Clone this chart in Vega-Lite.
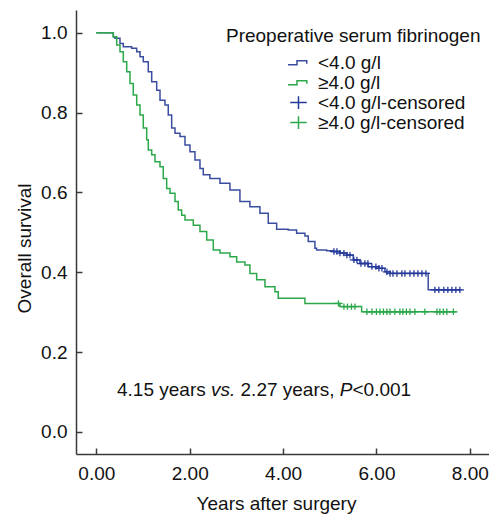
{
  "$schema": "https://vega.github.io/schema/vega-lite/v6.json",
  "width": 413,
  "height": 444,
  "autosize": "none",
  "padding": {"left": 76, "top": 10, "right": 0, "bottom": 61},
  "config": {
    "view": {"stroke": null},
    "font": "Liberation Sans",
    "axis": {
      "grid": false,
      "labelFont": "Liberation Sans",
      "titleFont": "Liberation Sans",
      "labelFontSize": 19,
      "titleFontSize": 19,
      "titleFontWeight": "normal",
      "labelColor": "#111111",
      "titleColor": "#111111",
      "domainColor": "#3a3a3a",
      "domainWidth": 1.5,
      "tickColor": "#3a3a3a",
      "tickWidth": 1.5,
      "labelFlush": false
    }
  },
  "datasets": {
    "curves": [
      {"series": "<4.0 g/l", "t": 0, "s": 1.0},
      {"series": "<4.0 g/l", "t": 0.364, "s": 0.990},
      {"series": "<4.0 g/l", "t": 0.40, "s": 0.986},
      {"series": "<4.0 g/l", "t": 0.507, "s": 0.973},
      {"series": "<4.0 g/l", "t": 0.578, "s": 0.965},
      {"series": "<4.0 g/l", "t": 0.758, "s": 0.961},
      {"series": "<4.0 g/l", "t": 0.865, "s": 0.952},
      {"series": "<4.0 g/l", "t": 0.936, "s": 0.940},
      {"series": "<4.0 g/l", "t": 1.006, "s": 0.927},
      {"series": "<4.0 g/l", "t": 1.113, "s": 0.902},
      {"series": "<4.0 g/l", "t": 1.186, "s": 0.877},
      {"series": "<4.0 g/l", "t": 1.293, "s": 0.856},
      {"series": "<4.0 g/l", "t": 1.364, "s": 0.831},
      {"series": "<4.0 g/l", "t": 1.471, "s": 0.819},
      {"series": "<4.0 g/l", "t": 1.541, "s": 0.794},
      {"series": "<4.0 g/l", "t": 1.614, "s": 0.761},
      {"series": "<4.0 g/l", "t": 1.685, "s": 0.748},
      {"series": "<4.0 g/l", "t": 1.792, "s": 0.740},
      {"series": "<4.0 g/l", "t": 1.899, "s": 0.719},
      {"series": "<4.0 g/l", "t": 2.006, "s": 0.702},
      {"series": "<4.0 g/l", "t": 2.113, "s": 0.681},
      {"series": "<4.0 g/l", "t": 2.220, "s": 0.660},
      {"series": "<4.0 g/l", "t": 2.291, "s": 0.644},
      {"series": "<4.0 g/l", "t": 2.433, "s": 0.635},
      {"series": "<4.0 g/l", "t": 2.648, "s": 0.623},
      {"series": "<4.0 g/l", "t": 2.862, "s": 0.606},
      {"series": "<4.0 g/l", "t": 3.076, "s": 0.577},
      {"series": "<4.0 g/l", "t": 3.290, "s": 0.564},
      {"series": "<4.0 g/l", "t": 3.504, "s": 0.548},
      {"series": "<4.0 g/l", "t": 3.682, "s": 0.523},
      {"series": "<4.0 g/l", "t": 3.862, "s": 0.508},
      {"series": "<4.0 g/l", "t": 4.110, "s": 0.506},
      {"series": "<4.0 g/l", "t": 4.290, "s": 0.498},
      {"series": "<4.0 g/l", "t": 4.468, "s": 0.491},
      {"series": "<4.0 g/l", "t": 4.539, "s": 0.477},
      {"series": "<4.0 g/l", "t": 4.682, "s": 0.460},
      {"series": "<4.0 g/l", "t": 4.718, "s": 0.456},
      {"series": "<4.0 g/l", "t": 4.933, "s": 0.454},
      {"series": "<4.0 g/l", "t": 5.074, "s": 0.452},
      {"series": "<4.0 g/l", "t": 5.217, "s": 0.448},
      {"series": "<4.0 g/l", "t": 5.361, "s": 0.443},
      {"series": "<4.0 g/l", "t": 5.502, "s": 0.431},
      {"series": "<4.0 g/l", "t": 5.645, "s": 0.422},
      {"series": "<4.0 g/l", "t": 5.823, "s": 0.414},
      {"series": "<4.0 g/l", "t": 6.003, "s": 0.410},
      {"series": "<4.0 g/l", "t": 6.181, "s": 0.401},
      {"series": "<4.0 g/l", "t": 6.288, "s": 0.397},
      {"series": "<4.0 g/l", "t": 7.108, "s": 0.356},
      {"series": "<4.0 g/l", "t": 7.823, "s": 0.356},
      {"series": "≥4.0 g/l", "t": 0, "s": 1.0},
      {"series": "≥4.0 g/l", "t": 0.364, "s": 0.990},
      {"series": "≥4.0 g/l", "t": 0.437, "s": 0.969},
      {"series": "≥4.0 g/l", "t": 0.507, "s": 0.952},
      {"series": "≥4.0 g/l", "t": 0.578, "s": 0.927},
      {"series": "≥4.0 g/l", "t": 0.651, "s": 0.902},
      {"series": "≥4.0 g/l", "t": 0.721, "s": 0.873},
      {"series": "≥4.0 g/l", "t": 0.792, "s": 0.844},
      {"series": "≥4.0 g/l", "t": 0.865, "s": 0.819},
      {"series": "≥4.0 g/l", "t": 0.936, "s": 0.794},
      {"series": "≥4.0 g/l", "t": 1.006, "s": 0.761},
      {"series": "≥4.0 g/l", "t": 1.079, "s": 0.732},
      {"series": "≥4.0 g/l", "t": 1.113, "s": 0.706},
      {"series": "≥4.0 g/l", "t": 1.186, "s": 0.694},
      {"series": "≥4.0 g/l", "t": 1.257, "s": 0.677},
      {"series": "≥4.0 g/l", "t": 1.364, "s": 0.664},
      {"series": "≥4.0 g/l", "t": 1.434, "s": 0.635},
      {"series": "≥4.0 g/l", "t": 1.507, "s": 0.610},
      {"series": "≥4.0 g/l", "t": 1.578, "s": 0.598},
      {"series": "≥4.0 g/l", "t": 1.685, "s": 0.577},
      {"series": "≥4.0 g/l", "t": 1.755, "s": 0.556},
      {"series": "≥4.0 g/l", "t": 1.828, "s": 0.543},
      {"series": "≥4.0 g/l", "t": 1.899, "s": 0.531},
      {"series": "≥4.0 g/l", "t": 2.077, "s": 0.518},
      {"series": "≥4.0 g/l", "t": 2.220, "s": 0.502},
      {"series": "≥4.0 g/l", "t": 2.364, "s": 0.481},
      {"series": "≥4.0 g/l", "t": 2.505, "s": 0.456},
      {"series": "≥4.0 g/l", "t": 2.648, "s": 0.448},
      {"series": "≥4.0 g/l", "t": 2.862, "s": 0.439},
      {"series": "≥4.0 g/l", "t": 3.006, "s": 0.426},
      {"series": "≥4.0 g/l", "t": 3.183, "s": 0.418},
      {"series": "≥4.0 g/l", "t": 3.290, "s": 0.397},
      {"series": "≥4.0 g/l", "t": 3.434, "s": 0.381},
      {"series": "≥4.0 g/l", "t": 3.612, "s": 0.364},
      {"series": "≥4.0 g/l", "t": 3.826, "s": 0.351},
      {"series": "≥4.0 g/l", "t": 3.896, "s": 0.335},
      {"series": "≥4.0 g/l", "t": 4.468, "s": 0.322},
      {"series": "≥4.0 g/l", "t": 5.217, "s": 0.314},
      {"series": "≥4.0 g/l", "t": 5.682, "s": 0.301},
      {"series": "≥4.0 g/l", "t": 7.716, "s": 0.301}
    ],
    "censored": [
      {"series": "<4.0 g/l-censored", "t": 5.089, "s": 0.452},
      {"series": "<4.0 g/l-censored", "t": 5.153, "s": 0.452},
      {"series": "<4.0 g/l-censored", "t": 5.218, "s": 0.448},
      {"series": "<4.0 g/l-censored", "t": 5.303, "s": 0.448},
      {"series": "<4.0 g/l-censored", "t": 5.367, "s": 0.443},
      {"series": "<4.0 g/l-censored", "t": 5.432, "s": 0.443},
      {"series": "<4.0 g/l-censored", "t": 5.517, "s": 0.431},
      {"series": "<4.0 g/l-censored", "t": 5.581, "s": 0.431},
      {"series": "<4.0 g/l-censored", "t": 5.667, "s": 0.422},
      {"series": "<4.0 g/l-censored", "t": 5.753, "s": 0.422},
      {"series": "<4.0 g/l-censored", "t": 5.817, "s": 0.422},
      {"series": "<4.0 g/l-censored", "t": 5.903, "s": 0.414},
      {"series": "<4.0 g/l-censored", "t": 5.988, "s": 0.414},
      {"series": "<4.0 g/l-censored", "t": 6.053, "s": 0.410},
      {"series": "<4.0 g/l-censored", "t": 6.117, "s": 0.410},
      {"series": "<4.0 g/l-censored", "t": 6.224, "s": 0.401},
      {"series": "<4.0 g/l-censored", "t": 6.29, "s": 0.397},
      {"series": "<4.0 g/l-censored", "t": 6.353, "s": 0.397},
      {"series": "<4.0 g/l-censored", "t": 6.438, "s": 0.397},
      {"series": "<4.0 g/l-censored", "t": 6.545, "s": 0.397},
      {"series": "<4.0 g/l-censored", "t": 6.610, "s": 0.397},
      {"series": "<4.0 g/l-censored", "t": 6.717, "s": 0.397},
      {"series": "<4.0 g/l-censored", "t": 6.802, "s": 0.397},
      {"series": "<4.0 g/l-censored", "t": 6.888, "s": 0.397},
      {"series": "<4.0 g/l-censored", "t": 6.973, "s": 0.397},
      {"series": "<4.0 g/l-censored", "t": 7.059, "s": 0.397},
      {"series": "<4.0 g/l-censored", "t": 7.251, "s": 0.356},
      {"series": "<4.0 g/l-censored", "t": 7.336, "s": 0.356},
      {"series": "<4.0 g/l-censored", "t": 7.443, "s": 0.356},
      {"series": "<4.0 g/l-censored", "t": 7.529, "s": 0.356},
      {"series": "<4.0 g/l-censored", "t": 7.615, "s": 0.356},
      {"series": "<4.0 g/l-censored", "t": 7.700, "s": 0.356},
      {"series": "<4.0 g/l-censored", "t": 7.786, "s": 0.356},
      {"series": "≥4.0 g/l-censored", "t": 5.185, "s": 0.322},
      {"series": "≥4.0 g/l-censored", "t": 5.303, "s": 0.314},
      {"series": "≥4.0 g/l-censored", "t": 5.378, "s": 0.314},
      {"series": "≥4.0 g/l-censored", "t": 5.464, "s": 0.314},
      {"series": "≥4.0 g/l-censored", "t": 5.539, "s": 0.314},
      {"series": "≥4.0 g/l-censored", "t": 5.795, "s": 0.301},
      {"series": "≥4.0 g/l-censored", "t": 5.903, "s": 0.301},
      {"series": "≥4.0 g/l-censored", "t": 5.999, "s": 0.301},
      {"series": "≥4.0 g/l-censored", "t": 6.074, "s": 0.301},
      {"series": "≥4.0 g/l-censored", "t": 6.149, "s": 0.301},
      {"series": "≥4.0 g/l-censored", "t": 6.224, "s": 0.301},
      {"series": "≥4.0 g/l-censored", "t": 6.288, "s": 0.301},
      {"series": "≥4.0 g/l-censored", "t": 6.395, "s": 0.301},
      {"series": "≥4.0 g/l-censored", "t": 6.502, "s": 0.301},
      {"series": "≥4.0 g/l-censored", "t": 6.566, "s": 0.301},
      {"series": "≥4.0 g/l-censored", "t": 6.641, "s": 0.301},
      {"series": "≥4.0 g/l-censored", "t": 6.716, "s": 0.301},
      {"series": "≥4.0 g/l-censored", "t": 6.823, "s": 0.301},
      {"series": "≥4.0 g/l-censored", "t": 7.037, "s": 0.301},
      {"series": "≥4.0 g/l-censored", "t": 7.294, "s": 0.301},
      {"series": "≥4.0 g/l-censored", "t": 7.358, "s": 0.301},
      {"series": "≥4.0 g/l-censored", "t": 7.433, "s": 0.301},
      {"series": "≥4.0 g/l-censored", "t": 7.508, "s": 0.301},
      {"series": "≥4.0 g/l-censored", "t": 7.647, "s": 0.301}
    ],
    "plain": [
      {"label": "Preoperative serum fibrinogen", "t": 2.777, "s": 0.9767},
      {"label": "4.15 years", "t": 0.443, "s": 0.0902},
      {"label": "2.27 years,", "t": 3.089, "s": 0.0902},
      {"label": "<0.001", "t": 5.487, "s": 0.0902}
    ],
    "italic": [
      {"label": "vs.", "t": 2.456, "s": 0.0902},
      {"label": "P", "t": 5.215, "s": 0.0902}
    ]
  },
  "layer": [
    {
      "data": {"name": "curves"},
      "mark": {"type": "line", "interpolate": "step-after", "strokeWidth": 1.5},
      "encoding": {
        "x": {
          "field": "t", "type": "quantitative",
          "scale": {"domain": [-0.435, 8.41], "nice": false, "zero": false},
          "axis": {
            "values": [0, 2, 4, 6, 8], "format": ".2f",
            "title": "Years after surgery",
            "tickSize": -6, "labelPadding": 16,
            "titleBaseline": "alphabetic", "titleY": 55, "titleX": 200
          }
        },
        "y": {
          "field": "s", "type": "quantitative",
          "scale": {"domain": [-0.0551, 1.0568], "nice": false, "zero": false},
          "axis": {
            "values": [0, 0.2, 0.4, 0.6, 0.8, 1.0], "format": ".1f",
            "title": "Overall survival",
            "tickSize": -6, "labelPadding": 15,
            "titleAngle": -90, "titleBaseline": "alphabetic", "titleAlign": "center",
            "titleX": -46, "titleY": 238
          }
        },
        "color": {
          "field": "series", "type": "nominal",
          "scale": {
            "domain": ["<4.0 g/l", "≥4.0 g/l", "<4.0 g/l-censored", "≥4.0 g/l-censored"],
            "range": ["#3a4da0", "#2ba84a", "#24399a", "#2ba84a"]
          },
          "legend": {
            "orient": "none", "legendX": 213, "legendY": 43, "title": null,
            "labelFontSize": 19, "labelColor": "#111111", "symbolSize": 225,
            "symbolStrokeWidth": 1.5, "labelOffset": 10, "rowPadding": -3, "padding": 0
          }
        }
      }
    },
    {
      "data": {"name": "censored"},
      "mark": {"type": "point", "filled": false, "size": 56, "strokeWidth": 1.3, "opacity": 1},
      "encoding": {
        "x": {"field": "t", "type": "quantitative"},
        "y": {"field": "s", "type": "quantitative"},
        "color": {
          "field": "series", "type": "nominal",
          "legend": {
            "orient": "none", "legendX": 213, "legendY": 43, "title": null,
            "labelFontSize": 19, "labelColor": "#111111", "symbolSize": 225,
            "symbolStrokeWidth": 1.5, "labelOffset": 10, "rowPadding": -3, "padding": 0
          }
        },
        "shape": {
          "field": "series", "type": "nominal",
          "scale": {
            "domain": ["<4.0 g/l", "≥4.0 g/l", "<4.0 g/l-censored", "≥4.0 g/l-censored"],
            "range": ["M-1.4,0.3H-0.2V-0.25H1.1V0.15", "M-1.4,0.3H-0.2V-0.25H1.1V0.15", "M-1.1,0H1.1M0,-0.85V0.85", "M-1.1,0H1.1M0,-0.85V0.85"]
          },
          "legend": {
            "orient": "none", "legendX": 213, "legendY": 43, "title": null,
            "labelFontSize": 19, "labelColor": "#111111", "symbolSize": 225,
            "symbolStrokeWidth": 1.5, "labelOffset": 10, "rowPadding": -3, "padding": 0
          }
        }
      }
    },
    {
      "mark": {"type": "rule", "color": "#3a3a3a", "strokeWidth": 1.5},
      "encoding": {"y": {"datum": 1.0568}}
    },
    {
      "data": {"name": "plain"},
      "mark": {"type": "text", "align": "left", "baseline": "alphabetic", "fontSize": 19, "font": "Liberation Sans", "color": "#111111"},
      "encoding": {
        "x": {"field": "t", "type": "quantitative"},
        "y": {"field": "s", "type": "quantitative"},
        "text": {"field": "label"}
      }
    },
    {
      "data": {"name": "italic"},
      "mark": {"type": "text", "align": "left", "baseline": "alphabetic", "fontSize": 19, "font": "Liberation Sans", "fontStyle": "italic", "color": "#111111"},
      "encoding": {
        "x": {"field": "t", "type": "quantitative"},
        "y": {"field": "s", "type": "quantitative"},
        "text": {"field": "label"}
      }
    }
  ]
}
